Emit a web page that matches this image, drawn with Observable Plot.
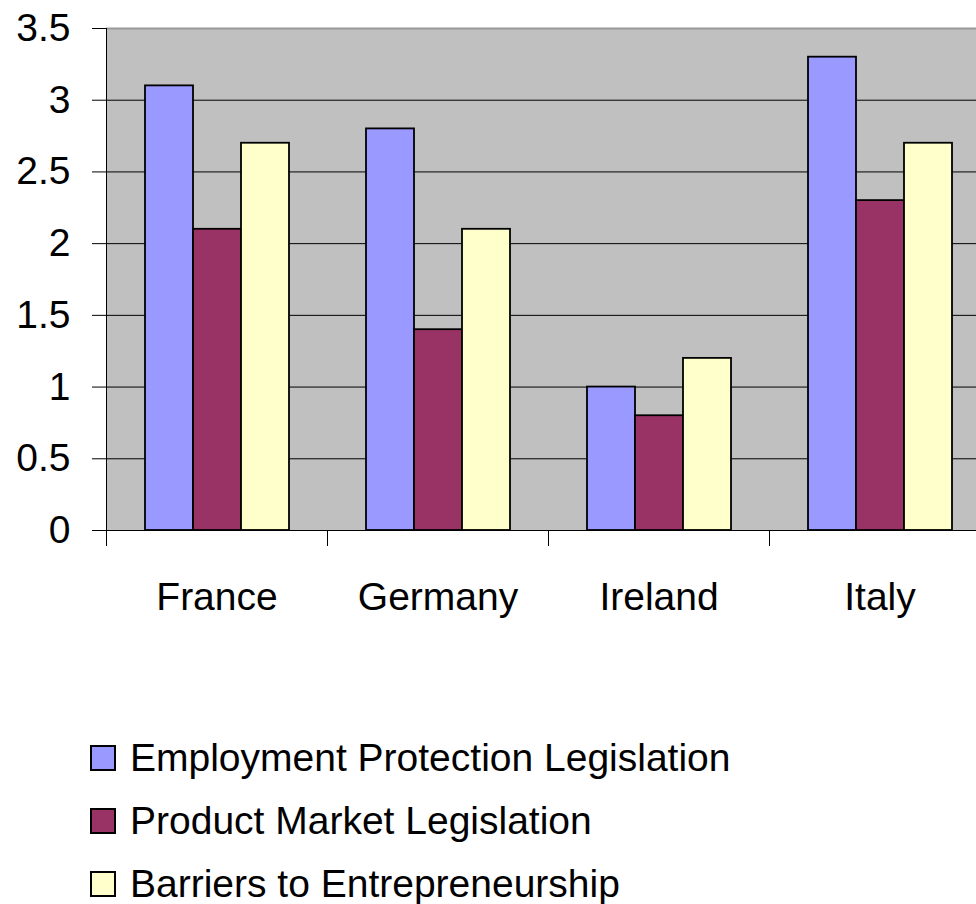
<!DOCTYPE html>
<html>
<head>
<meta charset="utf-8">
<script src="https://cdn.jsdelivr.net/npm/d3@7"></script>
<script src="https://cdn.jsdelivr.net/npm/@observablehq/plot@0.6"></script>
<style>
  html, body { margin: 0; padding: 0; background: #fff; overflow: hidden; }
  body { width: 976px; height: 904px; font-family: "Liberation Sans", Arial, sans-serif; }
  #chart { width: 976px; height: 720px; overflow: hidden; }
  #chart svg { max-width: none !important; width: 990px !important; height: 720px !important; display: block; }
  #legend { padding-top: 6px; padding-left: 90px; }
  .row { display: flex; align-items: center; height: 63px; font-size: 39px; color: #000; }
  .sw { width: 26px; height: 26px; box-sizing: border-box; border: 2px solid #000; margin-right: 14px; }
</style>
</head>
<body>
<div id="chart"></div>
<div id="legend"></div>
<script>
const countries = ["France", "Germany", "Ireland", "Italy"];
const seriesNames = ["Employment Protection Legislation", "Product Market Legislation", "Barriers to Entrepreneurship"];
const employment = [3.1, 2.8, 1.0, 3.3];
const productMarket = [2.1, 1.4, 0.8, 2.3];
const barriers = [2.7, 2.1, 1.2, 2.7];
const seriesColors = ["#9999FF", "#993366", "#FFFFCC"];
const yTicks = [0, 0.5, 1, 1.5, 2, 2.5, 3, 3.5];
const gridValues = [0.5, 1, 1.5, 2, 2.5, 3];

const seriesValues = [employment, productMarket, barriers];
const data = [];
countries.forEach((c, i) => {
  seriesNames.forEach((s, j) => data.push({country: c, series: s, value: seriesValues[j][i]}));
});

const chart = Plot.plot({
  width: 990,
  height: 720,
  marginLeft: 106,
  marginRight: 0,
  marginTop: 28,
  marginBottom: 190,
  style: {fontFamily: "Liberation Sans, Arial, sans-serif", fontSize: "39px", background: "#fff", color: "#000", maxWidth: "none"},
  fx: {domain: countries, padding: 0, axis: null},
  x: {domain: seriesNames, paddingInner: 0, paddingOuter: 0.76, axis: null},
  y: {domain: [0, 3.5], axis: null},
  color: {domain: seriesNames, range: seriesColors},
  marks: [
    Plot.frame({fill: "#C0C0C0", stroke: "#C0C0C0", strokeWidth: 1, shapeRendering: "crispEdges"}),
    Plot.ruleY(gridValues, {stroke: "#000", strokeWidth: 1}),
    Plot.ruleY([3.5], {stroke: "#999", strokeWidth: 2}),
    Plot.barY(data, {fx: "country", x: "series", y: "value", fill: "series", stroke: "#000", strokeWidth: 1.8}),
    Plot.ruleY([0], {stroke: "#000", strokeWidth: 1}),
    Plot.frame({anchor: "left", stroke: "#000", strokeWidth: 1, facetAnchor: "left"}),
    Plot.frame({anchor: "left", stroke: "#000", strokeWidth: 1, insetTop: 502, insetBottom: -15}),
    Plot.axisY({ticks: yTicks, tickSize: 14, tickPadding: 22, tickFormat: d => String(d), label: null, fontSize: 39}),
    Plot.axisFx({anchor: "bottom", tickSize: 0, tickPadding: 52, label: null, fontSize: 39})
  ]
});
document.getElementById("chart").appendChild(chart);

const legend = document.getElementById("legend");
seriesNames.forEach((s, i) => {
  const row = document.createElement("div");
  row.className = "row";
  const sw = document.createElement("span");
  sw.className = "sw";
  sw.style.background = seriesColors[i];
  const t = document.createElement("span");
  t.textContent = s;
  row.appendChild(sw);
  row.appendChild(t);
  legend.appendChild(row);
});
</script>
</body>
</html>
